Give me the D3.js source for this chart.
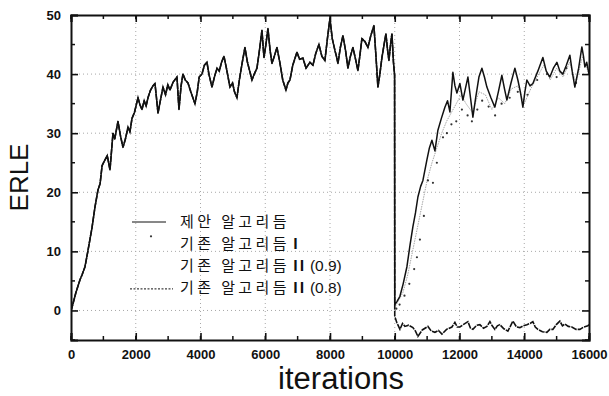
<!DOCTYPE html>
<html>
<head>
<meta charset="utf-8">
<script src="https://cdn.jsdelivr.net/npm/d3@7"></script>
<style>
  body { margin: 0; background: #fff; }
  svg { display: block; }
</style>
</head>
<body>
<div id="chart"></div>
<script>
// shared part: all algorithms behave the same before the echo path change at 10000
const itersPre = [0, 30, 150, 278, 340, 432, 520, 649, 740, 834, 900, 960, 1050, 1120, 1204, 1297, 1350, 1451, 1530, 1606,
  1680, 1760, 1820, 1884, 1960, 2069, 2130, 2192, 2260, 2320, 2378, 2450, 2530, 2594, 2640, 2687, 2760, 2841, 2920, 2990,
  3057, 3150, 3273, 3335, 3400, 3458, 3530, 3613, 3700, 3829, 3900, 3960, 4045, 4120, 4200, 4260, 4354, 4430, 4509, 4580,
  4650, 4725, 4800, 4910, 4990, 5050, 5126, 5200, 5290, 5373, 5450, 5520, 5589, 5660, 5744, 5820, 5898, 5960, 6020, 6083,
  6150, 6207, 6280, 6361, 6450, 6540, 6639, 6700, 6763, 6850, 6979, 7060, 7164, 7260, 7380, 7473, 7560, 7658, 7750, 7843,
  7920, 7998, 8070, 8152, 8200, 8245, 8320, 8399, 8480, 8554, 8630, 8708, 8790, 8862, 8920, 8986, 9080, 9171, 9260, 9356,
  9420, 9480, 9540, 9604, 9670, 9727, 9780, 9820, 9870, 9913, 9960, 9995];
const erlePre = [0, 0.5, 3, 5.2, 6, 7.4, 10, 14, 17.5, 20.4, 21.5, 24.5, 25.5, 26.2, 23.8, 30, 29, 32, 29.5, 27.6,
  29, 31, 30.2, 32.5, 33.5, 36, 34.8, 34, 35.5, 34.6, 36, 37.2, 38, 38.4, 36, 33.4, 35.5, 37.8, 36.5, 38.2,
  37.3, 38.6, 39.5, 34, 38, 40, 39, 38.5, 37, 35, 37, 39.5, 40, 41.5, 42, 40, 37.8, 39.5, 41, 40.5,
  42, 43, 41, 37.8, 38.5, 37, 36, 39, 42, 44.5, 42, 40.5, 39, 40, 41, 44, 47.4, 42.8, 45, 47.7,
  44, 41.8, 43, 44.5, 42, 39, 37.3, 38.5, 39, 41.5, 43.7, 42.5, 42.7, 41, 42, 41.5, 43.5, 45, 43, 42.3,
  46, 49.4, 46, 44, 43, 41.8, 44.5, 46.5, 44, 41, 43, 44.5, 42.5, 40.6, 43, 46, 45.5, 44.5, 46.5, 48.2,
  43, 37.8, 40, 42.8, 45, 46.8, 44, 42.3, 45, 46.8, 42, 39.8];

// 제안 알고리듬 after 10000
const itersProp = [10000, 10067, 10160, 10260, 10376, 10470, 10561, 10640, 10715, 10800, 10870, 10993, 11070, 11148, 11241, 11333,
  11440, 11549, 11630, 11704, 11796, 11860, 11920, 12013, 12105, 12180, 12260, 12340, 12414, 12500, 12600, 12692, 12770, 12846,
  12970, 13093, 13200, 13309, 13390, 13464, 13590, 13711, 13803, 13880, 13958, 14020, 14081, 14180, 14266, 14420, 14575, 14680,
  14791, 14900, 15008, 15100, 15193, 15300, 15409, 15480, 15563, 15680, 15780, 15830, 15872, 15930, 16000];
const erleProp = [1, 1.5, 2.4, 4.5, 7.4, 11, 14.2, 16.5, 19.2, 21, 22, 25.5, 27.5, 28.8, 27, 30.5,
  32.5, 34.4, 35.5, 33.6, 40.3, 38, 36.8, 38.4, 35.6, 37.5, 39.5, 36, 32.7, 36, 39.5, 41, 39.5, 37.8,
  36, 34.4, 37, 39.8, 37.5, 35.6, 38.5, 41, 39, 37, 34.4, 37, 39, 38, 38.4, 40.5, 42.8, 40.5,
  39.5, 41, 42, 40.5, 40, 41.5, 43.2, 40.5, 37.8, 41, 44.6, 43, 41.2, 42, 40];

// 기존 알고리듬 I (markers) after 10000
const itersOld1 = [10050, 10150, 10300, 10450, 10600, 10685, 10777, 10900, 11025, 11180, 11300, 11490, 11611, 11750, 11900, 12074,
  12250, 12383, 12550, 12700, 12900, 13100, 13300, 13550, 13800, 14100, 14400, 14700, 15000, 15300, 15600, 15900];
const erleOld1 = [0.3, 1, 2.5, 4.5, 7, 9, 12, 16, 22, 21.6, 25, 29.3, 30, 31.5, 32, 34,
  33, 32, 34, 35.5, 34.5, 33, 35, 36, 37, 36.5, 39, 40, 39.5, 41, 38.5, 41.5];

// 기존 알고리듬 II (0.9) after 10000
const itersOld09 = [10000, 10100, 10250, 10400, 10550, 10700, 10850, 11000, 11150, 11300, 11450, 11600, 11750, 11900, 12050, 12200,
  12400, 12600, 12800, 13000, 13200, 13400, 13600, 13800, 14000, 14200, 14400, 14600, 14800, 15000, 15200, 15400, 15600, 15800, 16000];
const erleOld09 = [0.5, 1.5, 3, 6, 10, 14, 18, 22, 25, 27.5, 30, 32, 33.5, 35, 36.5, 35,
  33.5, 37, 36.5, 34, 36, 35, 37.5, 38, 35, 37.5, 39.5, 41.5, 39, 41, 39.5, 42, 38.5, 43, 40];

// 기존 알고리듬 II (0.8) after 10000
const itersOld08 = [10000, 10060, 10160, 10240, 10314, 10430, 10561, 10640, 10715, 10850, 11024, 11130, 11241, 11350, 11457, 11600,
  11766, 11858, 11930, 12013, 12140, 12260, 12340, 12414, 12530, 12630, 12740, 12846, 12939, 13010, 13093, 13170, 13247, 13370,
  13494, 13570, 13649, 13760, 13865, 13970, 14081, 14180, 14266, 14340, 14421, 14560, 14699, 14790, 14884, 14990, 15100, 15180,
  15254, 15360, 15470, 15600, 15718, 15840, 15965, 16000];
const erleOld08 = [-1, -2, -3.2, -2.2, -2.7, -2.5, -2.9, -3.5, -4.4, -3.3, -2.7, -3.5, -3.7, -3.4, -4, -3.2,
  -2.8, -2, -2.8, -2.8, -2.3, -1.9, -3, -3.2, -2.5, -2.4, -3, -2.7, -1.9, -2.6, -3.2, -2.6, -2.4, -3.1,
  -3.5, -2.7, -1.8, -2.8, -2.9, -2.6, -2.4, -2.2, -1.9, -2.8, -3.2, -3.6, -3.7, -3.2, -3.2, -2.4, -1.8, -2.6,
  -2.3, -2.7, -2.8, -3.2, -3.2, -2.8, -2.6, -2.4];

const xTicks = [0, 2000, 4000, 6000, 8000, 10000, 12000, 14000, 16000];
const yTicks = [0, 10, 20, 30, 40, 50];
const legendNames = ['제안 알고리듬', '기존 알고리듬', '기존 알고리듬', '기존 알고리듬'];
const legendTags = ['', 'I', 'II', 'II'];
const legendParams = ['', '', '(0.9)', '(0.8)'];

const W = 609, H = 396;
const margin = { top: 15, right: 20, bottom: 56, left: 71 };
const width = W - margin.left - margin.right;
const height = H - margin.top - margin.bottom;

const zip = (xs, ys) => xs.map((x, i) => ({ x, y: ys[i] }));
const pre = zip(itersPre, erlePre);

const svg = d3.select('#chart').append('svg')
  .attr('width', W)
  .attr('height', H);

const g = svg.append('g')
  .attr('transform', `translate(${margin.left},${margin.top})`);

const x = d3.scaleLinear().domain([0, 16000]).range([0, width]);
const y = d3.scaleLinear().domain([-5, 50]).range([height, 0]);

svg.append('defs').append('clipPath').attr('id', 'clip')
  .append('rect').attr('width', width).attr('height', height);

// dotted grid
const grid = g.append('g').attr('stroke', '#a8a8a8').attr('stroke-dasharray', '1,3').attr('stroke-width', 1);
grid.selectAll('line.gx').data(xTicks.slice(1, -1)).enter().append('line')
  .attr('x1', (d) => x(d)).attr('x2', (d) => x(d)).attr('y1', 0).attr('y2', height);
grid.selectAll('line.gy').data(yTicks.slice(0, -1)).enter().append('line')
  .attr('y1', (d) => y(d)).attr('y2', (d) => y(d)).attr('x1', 0).attr('x2', width);

const line = d3.line().x((d) => x(d.x)).y((d) => y(d.y));
const plot = g.append('g').attr('clip-path', 'url(#clip)');

// 기존 II (0.9): faint gray
plot.append('path')
  .datum(pre.concat(zip(itersOld09, erleOld09)))
  .attr('fill', 'none').attr('stroke', '#9a9a9a').attr('stroke-width', 0.9)
  .attr('stroke-dasharray', '1.5,1')
  .attr('d', line);

// 기존 I: dot markers
plot.selectAll('circle.old1').data(zip(itersOld1, erleOld1)).enter().append('circle')
  .attr('cx', (d) => x(d.x)).attr('cy', (d) => y(d.y)).attr('r', 1.1).attr('fill', '#333');

// 기존 II (0.8): dashed dark
plot.append('path')
  .datum(pre.concat(zip(itersOld08, erleOld08)))
  .attr('fill', 'none').attr('stroke', '#111').attr('stroke-width', 1.6)
  .attr('stroke-dasharray', '6,1')
  .attr('d', line);

// 제안 알고리듬: solid
plot.append('path')
  .datum(pre.concat(zip(itersProp, erleProp)))
  .attr('fill', 'none').attr('stroke', '#111').attr('stroke-width', 1.5)
  .attr('stroke-linejoin', 'round')
  .attr('d', line);

// axes, ticks pointing inward on all four sides
const axisFont = (sel) => sel.selectAll('text')
  .attr('font-family', 'Liberation Sans, Arial, sans-serif')
  .attr('font-weight', 'bold').attr('font-size', 13).attr('fill', '#111');

const minorX = d3.range(0, 16001, 1000);
const minorY = [-5, 5, 15, 25, 35, 45];

g.append('g').attr('transform', `translate(0,${height})`)
  .call(d3.axisBottom(x).tickValues(xTicks).tickSize(-7).tickPadding(10).tickFormat(d3.format('d')))
  .call(axisFont);
g.append('g')
  .call(d3.axisLeft(y).tickValues(yTicks).tickSize(-7).tickPadding(10).tickFormat(d3.format('d')))
  .call(axisFont);
g.append('g').call(d3.axisTop(x).tickValues(xTicks).tickSize(-7).tickFormat(''));
g.append('g').attr('transform', `translate(${width},0)`)
  .call(d3.axisRight(y).tickValues(yTicks).tickSize(-7).tickFormat(''));

// minor ticks
const minor = g.append('g').attr('stroke', '#111').attr('stroke-width', 1.5);
minor.selectAll('line.mb').data(minorX).enter().append('line')
  .attr('x1', (d) => x(d)).attr('x2', (d) => x(d)).attr('y1', height).attr('y2', height - 4);
minor.selectAll('line.mt').data(minorX).enter().append('line')
  .attr('x1', (d) => x(d)).attr('x2', (d) => x(d)).attr('y1', 0).attr('y2', 4);
minor.selectAll('line.ml').data(minorY).enter().append('line')
  .attr('y1', (d) => y(d)).attr('y2', (d) => y(d)).attr('x1', 0).attr('x2', 4);
minor.selectAll('line.mr').data(minorY).enter().append('line')
  .attr('y1', (d) => y(d)).attr('y2', (d) => y(d)).attr('x1', width).attr('x2', width - 4);

g.selectAll('.domain').attr('stroke', '#111').attr('stroke-width', 2);
g.selectAll('.tick line').attr('stroke', '#111').attr('stroke-width', 1.6);

// axis titles
svg.append('text')
  .attr('transform', `translate(28,${margin.top + y(22.5)}) rotate(-90)`)
  .attr('text-anchor', 'middle')
  .attr('font-family', 'Liberation Sans, Arial, sans-serif')
  .attr('font-size', 26).attr('fill', '#111')
  .text('ERLE');

svg.append('text')
  .attr('x', 341).attr('y', 389)
  .attr('text-anchor', 'middle')
  .attr('font-family', 'Liberation Sans, Arial, sans-serif')
  .attr('font-size', 31).attr('fill', '#111')
  .text('iterations');

// legend
const legend = g.append('g').attr('transform', 'translate(59,206)');
const rowH = 22.3;
legendNames.forEach((name, i) => {
  const t = legend.append('text')
    .attr('x', 50).attr('y', i * rowH + 5.5)
    .attr('font-family', 'Noto Sans CJK KR, sans-serif')
    .attr('font-size', 15).attr('fill', '#111');
  t.append('tspan').attr('letter-spacing', 3.4).text(name);
  if (legendTags[i]) {
    t.append('tspan').attr('dx', 3).attr('font-weight', 'bold').attr('letter-spacing', 1.5).text(legendTags[i]);
  }
  if (legendParams[i]) {
    t.append('tspan').attr('dx', 4).attr('font-family', 'Liberation Sans, Arial, sans-serif')
      .attr('font-size', 15.5).text(legendParams[i]);
  }
});
legend.append('line').attr('x1', 2).attr('x2', 36).attr('y1', 1).attr('y2', 1)
  .attr('stroke', '#111').attr('stroke-width', 1);
legend.append('circle').attr('cx', 21).attr('cy', rowH - 7).attr('r', 1.1).attr('fill', '#333');
legend.append('line').attr('x1', 0).attr('x2', 43).attr('y1', 3 * rowH + 1).attr('y2', 3 * rowH + 1)
  .attr('stroke', '#111').attr('stroke-width', 1).attr('stroke-dasharray', '2,1.5');
</script>
</body>
</html>
